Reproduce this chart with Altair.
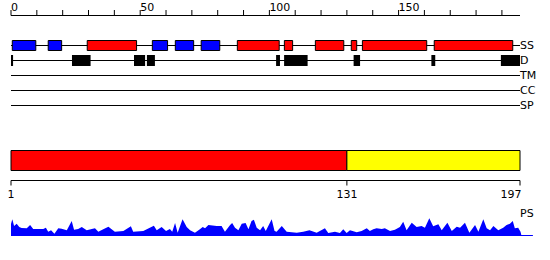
import altair as alt
import pandas as pd

# ---------------- data ----------------
LENGTH = 197
top_ticks = list(range(0, 191, 10))
top_labels = [0, 50, 100, 150]

# secondary structure (E = strand, H = helix), sequence coordinates
ss_start = [0.5, 14.4, 29.5, 54.7, 63.6, 73.6, 87.6, 105.8, 117.8, 131.7, 136.0, 163.8]
ss_end = [9.6, 19.6, 48.6, 60.6, 70.7, 80.8, 103.8, 109.0, 128.8, 133.8, 160.9, 194.2]
ss_type = ["E", "E", "H", "E", "E", "E", "H", "H", "H", "H", "H", "H"]

# disorder segments
dis_start = [0.0, 23.6, 47.6, 52.6, 102.6, 105.7, 132.6, 162.7, 189.6]
dis_end = [0.8, 30.8, 51.9, 55.7, 104.1, 114.8, 135.1, 164.2, 197.0]

tracks = ["SS", "D", "TM", "CC", "SP"]

# domain boundaries (residues, inclusive)
dom_start = [1, 131]
dom_end = [130, 197]
dom_color = ["#ff0000", "#ffff00"]

# PS profile
ps_pos = [0.0, 0.5, 1.2, 2.2, 3.2, 4.1, 6.1, 7.4, 8.6, 12.5, 13.5, 14.4, 15.5, 16.8, 18.3,
          19.6, 21.6, 23.5, 24.4, 26.0, 27.4, 29.3, 32.5, 33.8, 35.7, 37.7, 40.2, 43.5, 46.4,
          47.3, 51.2, 55.3, 56.4, 58.3, 60.0, 61.5, 62.4, 63.5, 64.5, 66.4, 68.0, 69.3, 71.2,
          73.1, 74.2, 75.1, 76.4, 79.6, 81.5, 82.8, 84.8, 85.6, 86.7, 88.0, 89.3, 90.8, 91.9,
          93.1, 94.0, 95.1, 96.4, 97.6, 98.6, 100.9, 102.0, 102.8, 104.8, 106.7, 110.6, 113.1,
          115.5, 118.3, 121.5, 122.8, 125.4, 127.3, 128.6, 129.9, 131.2, 133.8, 135.7, 137.7,
          138.9, 140.2, 141.5, 143.5, 144.7, 146.7, 148.6, 150.5, 151.8, 153.1, 155.1, 157.0,
          158.9, 160.2, 161.9, 163.4, 165.4, 166.7, 168.9, 170.6, 172.5, 173.8, 175.7, 177.4,
          179.6, 180.9, 182.8, 184.1, 185.4, 186.7, 188.6, 190.5, 191.8, 193.1, 194.2, 195.0,
          196.3, 197.2, 197.6]
ps_val = [12.0, 16.7, 10.0, 12.3, 9.0, 8.0, 7.7, 11.0, 7.0, 7.0, 8.3, 4.3, 5.7, 2.3, 7.7,
          7.3, 5.7, 15.0, 6.3, 7.0, 9.0, 5.7, 7.7, 4.3, 6.7, 9.3, 4.3, 5.0, 9.7,
          4.3, 5.0, 10.3, 5.7, 9.0, 5.0, 7.0, 4.3, 13.0, 3.3, 16.7, 9.0, 5.7, 3.3,
          6.7, 9.0, 7.7, 11.0, 10.0, 10.0, 4.3, 11.0, 13.0, 8.3, 5.7, 12.3, 13.0, 6.7,
          15.0, 16.3, 8.3, 5.7, 10.0, 5.0, 16.7, 5.0, 4.3, 10.0, 4.3, 3.3, 4.3,
          5.7, 3.3, 7.7, 3.0, 4.3, 3.0, 6.7, 3.0, 5.7, 3.7, 5.0, 7.7,
          5.0, 6.7, 7.7, 7.0, 7.7, 5.0, 6.3, 9.0, 14.3, 5.7, 13.3, 9.0,
          10.0, 8.3, 17.7, 9.7, 11.7, 5.7, 13.3, 5.0, 9.3, 8.3, 13.3, 3.3,
          11.0, 4.3, 16.7, 7.7, 5.7, 10.0, 5.7, 8.3, 11.0, 12.3, 15.0, 7.7,
          8.3, 4.3, 0.0]

# ---------------- layout / style ----------------
FONT = "DejaVu Sans"
FS = 11
X = alt.Scale(domain=[0, LENGTH], range=[11, 520])
track_y = {"SS": 45.5, "D": 60.5, "TM": 75.5, "CC": 90.5, "SP": 105.5}


def xs(field):
    return alt.X(field, type="quantitative", scale=X, axis=None)


span = pd.DataFrame({"a": [0], "b": [LENGTH]})
layers = []

# top ruler
layers.append(alt.Chart(span).mark_rule(color="black").encode(
    x=xs("a"), x2="b:Q", y=alt.value(15.5)))
layers.append(alt.Chart(pd.DataFrame({"p": top_ticks})).mark_rule(color="black").encode(
    x=xs("p"), y=alt.value(10), y2=alt.value(15.5)))
layers.append(alt.Chart(pd.DataFrame({"p": top_labels})).mark_text(
    align="left", baseline="alphabetic", font=FONT, fontSize=FS, color="black").encode(
    x=xs("p"), y=alt.value(10.5), text="p:Q"))

# track lines and labels
for t in tracks:
    layers.append(alt.Chart(span).mark_rule(color="black").encode(
        x=xs("a"), x2="b:Q", y=alt.value(track_y[t])))
    layers.append(alt.Chart(pd.DataFrame({"t": [t]})).mark_text(
        align="left", baseline="middle", font=FONT, fontSize=FS, color="black").encode(
        x=alt.value(520), y=alt.value(track_y[t]), text="t:N"))

# SS boxes
ss_df = pd.DataFrame({"s": ss_start, "e": ss_end, "type": ss_type})
layers.append(alt.Chart(ss_df).mark_rect(stroke="black", strokeWidth=1).encode(
    x=xs("s"), x2="e:Q", y=alt.value(40.5), y2=alt.value(50.5),
    color=alt.Color("type:N", scale=alt.Scale(domain=["H", "E"], range=["#ff0000", "#0000ff"]),
                    legend=None)))

# disorder boxes
dis_df = pd.DataFrame({"s": dis_start, "e": dis_end})
layers.append(alt.Chart(dis_df).mark_rect(color="black").encode(
    x=xs("s"), x2="e:Q", y=alt.value(55), y2=alt.value(66)))

# domain bar
dom_df = pd.DataFrame({"s": dom_start, "e": dom_end, "c": dom_color})
layers.append(alt.Chart(dom_df).transform_calculate(left="datum.s - 1").mark_rect(
    stroke="black", strokeWidth=1).encode(
    x=xs("left"), x2="e:Q", y=alt.value(150.5), y2=alt.value(170.5),
    color=alt.Color("c:N", scale=None)))

# bottom ruler
tick_pos = [s - 1 for s in dom_start] + [dom_end[-1]]
tick_lab = [str(s) for s in dom_start] + [str(dom_end[-1])]
bt = pd.DataFrame({"p": tick_pos, "l": tick_lab})
layers.append(alt.Chart(span).mark_rule(color="black").encode(
    x=xs("a"), x2="b:Q", y=alt.value(180.5)))
layers.append(alt.Chart(bt).mark_rule(color="black").encode(
    x=xs("p"), y=alt.value(180.5), y2=alt.value(185.5)))
layers.append(alt.Chart(bt.iloc[:-1]).mark_text(
    align="center", baseline="alphabetic", font=FONT, fontSize=FS, color="black").encode(
    x=xs("p"), y=alt.value(198), text="l:N"))
layers.append(alt.Chart(bt.iloc[-1:]).mark_text(
    align="right", baseline="alphabetic", font=FONT, fontSize=FS, color="black", dx=1.5).encode(
    x=xs("p"), y=alt.value(198), text="l:N"))

# PS label and profile
layers.append(alt.Chart(pd.DataFrame({"t": ["PS"]})).mark_text(
    align="left", baseline="alphabetic", font=FONT, fontSize=FS, color="black").encode(
    x=alt.value(520), y=alt.value(216.5), text="t:N"))
layers.append(alt.Chart(pd.DataFrame({"a": [0], "b": [202]})).mark_rule(color="#0000ff").encode(
    x=xs("a"), x2="b:Q", y=alt.value(235.5)))
ps_df = pd.DataFrame({"p": ps_pos, "v": ps_val})
layers.append(alt.Chart(ps_df).mark_area(color="#0000ff", opacity=1, interpolate="linear").encode(
    x=xs("p"),
    y=alt.Y("v:Q", scale=alt.Scale(domain=[0, 20], range=[236, 216]), axis=None)))

chart = alt.layer(*layers).properties(
    width=550, height=260, padding=0, autosize="none", background="white"
).configure_view(stroke=None)

chart.save("out.html", embed_options={"renderer": "svg", "actions": False})
